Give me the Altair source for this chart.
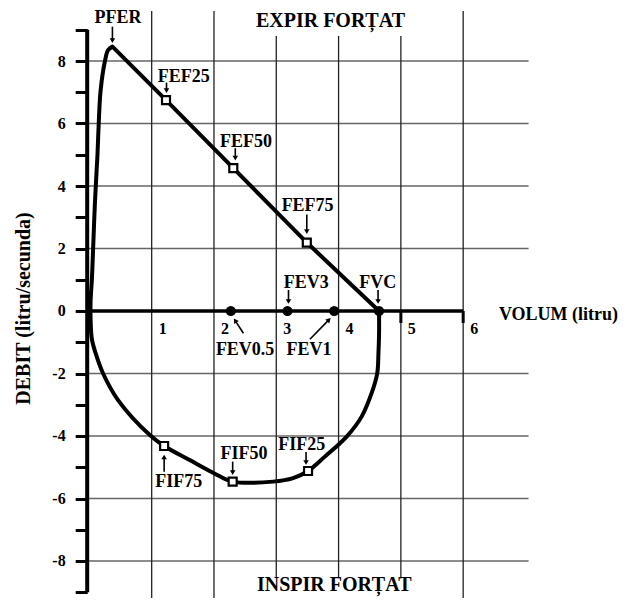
import math
import altair as alt
import pandas as pd

# ---------------- values ----------------
# flow-volume loop (smooth part): FVC -> inspiration -> origin -> rise to PFER
loop_x = [4.65, 4.65, 4.64, 4.62, 4.53, 4.37, 4.13, 3.78, 3.51, 3.27, 2.95, 2.30,
          2.00, 1.61, 1.20, 0.97, 0.46, 0.22, 0.10, 0.04, 0.02, 0.02, 0.04, 0.06,
          0.09, 0.13, 0.15, 0.18, 0.25, 0.30, 0.37]
loop_y = [0.00, -0.70, -1.35, -2.00, -2.63, -3.38, -4.02, -4.66, -5.12, -5.35, -5.46, -5.46,
          -5.19, -4.77, -4.32, -3.97, -2.85, -2.00, -1.35, -0.90, -0.30, 0.35, 1.00, 2.00,
          3.50, 5.00, 6.00, 7.05, 8.00, 8.35, 8.46]
# straight expiratory descent PFER -> FVC
exp_x = [0.37, 1.23, 2.31, 3.49, 4.65]
exp_y = [8.46, 6.75, 4.57, 2.19, 0.00]

pfer_x, pfer_y = 0.37, 8.46
fef_names = ["FEF25", "FEF50", "FEF75"]
fef_x = [1.23, 2.31, 3.49]
fef_y = [6.75, 4.57, 2.19]
fif_names = ["FIF75", "FIF50", "FIF25"]
fif_x = [1.20, 2.30, 3.51]
fif_y = [-4.32, -5.46, -5.12]
fev_names = ["FEV0.5", "FEV3", "FEV1", "FVC"]
fev_x = [2.27, 3.18, 3.93, 4.65]
fev_y = [0.0, 0.0, 0.0, 0.0]

x_ticks = [1, 2, 3, 4, 5, 6]
x_tick_marks = [5, 6]
y_ticks = list(range(-9, 10))
grid_y = [-8, -6, -4, -2, 2, 4, 6, 8]
grid_x = [1, 2, 3, 4, 5, 6]

# ---------------- layout / style ----------------
PXX = 62.3    # px per litre
PXY = 31.25   # px per litre/s
XMIN, XMAX = -0.035, 8.5
YMIN, YMAX = -9.184, 9.6
W = (XMAX - XMIN) * PXX
H = (YMAX - YMIN) * PXY
FONT = "Liberation Serif"

xs = alt.Scale(domain=[XMIN, XMAX], nice=False, zero=False)
ys = alt.Scale(domain=[YMIN, YMAX], nice=False, zero=False)

yaxis = alt.Axis(
    values=y_ticks, domain=False, grid=False, ticks=True, tickSize=12, tickWidth=3,
    tickColor="black", labelOverlap=False,
    labelExpr="datum.value % 2 == 0 ? '' + datum.value : ''",
    labelFont=FONT, labelFontSize=16, labelFontWeight="bold", labelColor="black",
    labelPadding=10,
    title="DEBIT (litru/secunda)", titleFont=FONT, titleFontSize=20,
    titleFontWeight="bold", titleColor="black", titleAngle=270,
    titleX=-64, titleY=297, titleAlign="center", titleBaseline="middle",
)


def X(f):
    return alt.X(f, type="quantitative", scale=xs, axis=None)


def Y(f):
    return alt.Y(f, type="quantitative", scale=ys, axis=yaxis)


def to_data(ax, ay, px, py):
    return ax + px / PXX, ay - py / PXY


# ---------------- grid ----------------
hgrid_df = pd.DataFrame({"y": grid_y, "x": [XMIN] * len(grid_y), "x2": [7.05] * len(grid_y)})
hgrid = alt.Chart(hgrid_df).mark_rule(color="#666", strokeWidth=1.6).encode(
    x=X("x"), x2="x2", y=Y("y"))

title_cx, title_half = 3.87, 1.3
vtop = [8.8 if abs(g - title_cx) < title_half else YMAX for g in grid_x]
vbot = [-8.55 if abs(g - title_cx) < title_half else YMIN for g in grid_x]
vgrid_df = pd.DataFrame({"x": grid_x, "y": vbot, "y2": vtop})
vgrid = alt.Chart(vgrid_df).mark_rule(color="#222", strokeWidth=1.3).encode(
    x=X("x"), y=Y("y"), y2="y2")

# ---------------- axes lines ----------------
yline = alt.Chart(pd.DataFrame({"x": [XMIN], "y": [-9], "y2": [9]})).mark_rule(
    color="black", strokeWidth=4).encode(x=X("x"), y=Y("y"), y2="y2")
xline = alt.Chart(pd.DataFrame({"x": [XMIN], "x2": [6], "y": [0]})).mark_rule(
    color="black", strokeWidth=3.5).encode(x=X("x"), x2="x2", y=Y("y"))
xtk_df = pd.DataFrame({"x": x_tick_marks, "y": [0] * len(x_tick_marks),
                       "y2": [-12 / PXY] * len(x_tick_marks)})
xtk = alt.Chart(xtk_df).mark_rule(color="black", strokeWidth=3).encode(
    x=X("x"), y=Y("y"), y2="y2")
xlab_df = pd.DataFrame({"x": x_ticks, "y": [0] * len(x_ticks), "t": [str(v) for v in x_ticks]})
xlab = alt.Chart(xlab_df).mark_text(
    font=FONT, fontSize=16, fontWeight="bold", color="black", align="center",
    baseline="alphabetic", dx=11, dy=23).encode(x=X("x"), y=Y("y"), text="t:N")

# ---------------- curves ----------------
loop_df = pd.DataFrame({"x": loop_x, "y": loop_y, "i": list(range(len(loop_x)))})
loop = alt.Chart(loop_df).mark_line(
    interpolate="catmull-rom", color="black", strokeWidth=4, strokeJoin="round").encode(
    x=X("x"), y=Y("y"), order="i:Q")
exp_df = pd.DataFrame({"x": exp_x, "y": exp_y, "i": list(range(len(exp_x)))})
expl = alt.Chart(exp_df).mark_line(color="black", strokeWidth=4, strokeCap="round").encode(
    x=X("x"), y=Y("y"), order="i:Q")

# ---------------- markers ----------------
fev_df = pd.DataFrame({"x": fev_x, "y": fev_y})
fev = alt.Chart(fev_df).mark_circle(size=105, color="black", opacity=1).encode(
    x=X("x"), y=Y("y"))
sq_df = pd.DataFrame({"x": fef_x + fif_x, "y": fef_y + fif_y})
sq = alt.Chart(sq_df).mark_point(
    shape="square", size=64, filled=True, fill="white", stroke="black",
    strokeWidth=2.2, opacity=1).encode(x=X("x"), y=Y("y"))

# ---------------- annotations ----------------
anchors = {"PFER": (pfer_x, pfer_y)}
for n, a, b in zip(fef_names, fef_x, fef_y):
    anchors[n] = (a, b)
for n, a, b in zip(fif_names, fif_x, fif_y):
    anchors[n] = (a, b)
for n, a, b in zip(fev_names, fev_x, fev_y):
    anchors[n] = (a, b)

# label text offsets (px) relative to anchor: centre x, baseline y
label_off = {
    "PFER": (5.6, -23.3), "FEF25": (17.8, -18.3), "FEF50": (12.7, -21.6),
    "FEF75": (0.8, -32), "FEV3": (18.7, -22.7), "FVC": (-1.3, -22.7),
    "FEV1": (-25.3, 44), "FEV0.5": (14.3, 44), "FIF75": (14.7, 40.7),
    "FIF50": (11.3, -22.4), "FIF25": (-6.3, -21.4),
}
# arrow start / tip offsets (px) relative to anchor
arrow_off = {
    "PFER": ((0, -20), (0, -3.5)), "FEF25": ((0.5, -17.5), (0.5, -7)),
    "FEF50": ((2, -20), (2, -7.5)), "FEF75": ((0, -28), (0, -8.5)),
    "FEV3": ((1, -21), (1, -7)), "FVC": ((-1, -21), (-1, -7)),
    "FEV1": ((-24.3, 28.3), (-3.5, 7)), "FEV0.5": ((12.6, 22.3), (3, 7.5)),
    "FIF75": ((0, 25.7), (0, 8.5)), "FIF50": ((0, -20), (0, -6.5)),
    "FIF25": ((-2, -19), (-2, -6)),
}

lab_rows, shaft_rows, head_rows = [], [], []
for n, (ax, ay) in anchors.items():
    dx, dy = label_off[n]
    lx, ly = to_data(ax, ay, dx, dy)
    lab_rows.append({"x": lx, "y": ly, "t": n})
    (sx, sy), (tx, ty) = arrow_off[n]
    L = math.hypot(tx - sx, ty - sy)
    ux, uy = (tx - sx) / L, (ty - sy) / L
    x1, y1 = to_data(ax, ay, sx, sy)
    x2, y2 = to_data(ax, ay, tx - 2 * ux, ty - 2 * uy)
    shaft_rows.append({"x": x1, "y": y1, "x2": x2, "y2": y2})
    hx, hy = to_data(ax, ay, tx - 2.5 * ux, ty - 2.5 * uy)
    ang = math.degrees(math.atan2(ux, -uy)) % 360
    head_rows.append({"x": hx, "y": hy, "ang": ang})

shafts = alt.Chart(pd.DataFrame(shaft_rows)).mark_rule(color="black", strokeWidth=1.6).encode(
    x=X("x"), y=Y("y"), x2="x2", y2="y2")
heads = alt.Chart(pd.DataFrame(head_rows)).mark_point(
    shape="triangle-up", size=30, filled=True, color="black", opacity=1).encode(
    x=X("x"), y=Y("y"), angle=alt.Angle("ang:Q", scale=None))
labels = alt.Chart(pd.DataFrame(lab_rows)).mark_text(
    font=FONT, fontSize=18, fontWeight="bold", color="black", align="center",
    baseline="alphabetic").encode(x=X("x"), y=Y("y"), text="t:N")

titles_df = pd.DataFrame({
    "x": [3.87, 3.93],
    "y": [9.09, -8.97],
    "t": ["EXPIR FORȚAT", "INSPIR FORȚAT"],
})
titles = alt.Chart(titles_df).mark_text(
    font=FONT, fontSize=20, fontWeight="bold", color="black", align="center",
    baseline="alphabetic").encode(x=X("x"), y=Y("y"), text="t:N")
vol_df = pd.DataFrame({"x": [6.575], "y": [-0.29], "t": ["VOLUM (litru)"]})
vol = alt.Chart(vol_df).mark_text(
    font=FONT, fontSize=18, fontWeight="bold", color="black", align="left",
    baseline="alphabetic").encode(x=X("x"), y=Y("y"), text="t:N")

chart = alt.layer(
    hgrid, vgrid, yline, xline, xtk, xlab, loop, expl, fev, sq, shafts, heads,
    labels, titles, vol,
).properties(
    width=W, height=H,
    padding={"left": 79.2, "top": 3, "right": 4, "bottom": 0},
    autosize=alt.AutoSizeParams(type="none"),
    background="white",
).configure_view(strokeWidth=0)

chart.save("out.html", embed_options={"renderer": "svg", "actions": False})
